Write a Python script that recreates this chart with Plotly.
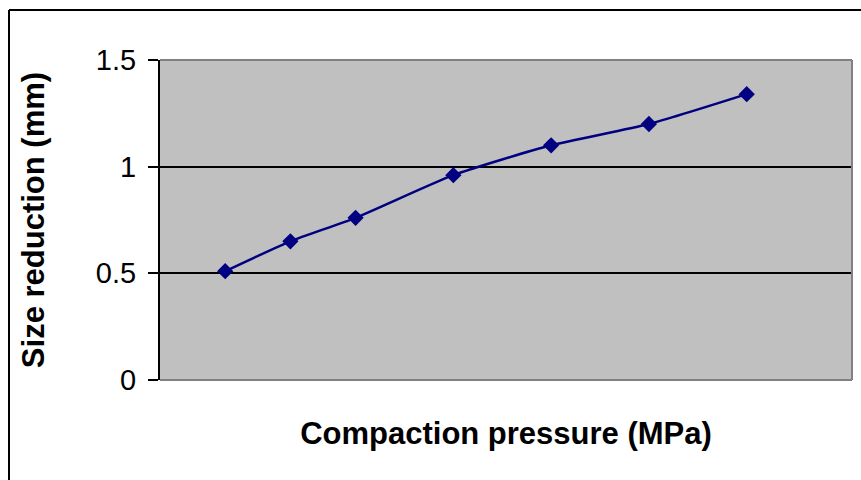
import plotly.graph_objects as go

# Data
pressure_mpa = [20, 40, 60, 90, 120, 150, 180]
size_reduction_mm = [0.51, 0.65, 0.76, 0.96, 1.10, 1.20, 1.34]
y_ticks = [0, 0.5, 1, 1.5]
y_tick_labels = ["0", "0.5", "1", "1.5"]

FONT = "Liberation Sans, Arial, sans-serif"
NAVY = "#000080"

fig = go.Figure()
fig.add_trace(go.Scatter(
    x=pressure_mpa, y=size_reduction_mm,
    mode="lines+markers",
    line=dict(color=NAVY, width=2.5, shape="spline", smoothing=0.6),
    marker=dict(symbol="diamond", size=12.5, color=NAVY),
    showlegend=False, hoverinfo="x+y",
))

fig.update_layout(
    width=861, height=480,
    margin=dict(l=160, r=9, t=60, b=100),
    paper_bgcolor="white",
    plot_bgcolor="#C0C0C0",
    font=dict(family=FONT, color="black"),
    xaxis=dict(
        range=[0, 212.3],
        showgrid=False, zeroline=False,
        showticklabels=False, ticks="",
        showline=False,
        title=dict(text="<b>Compaction pressure (MPa)</b>",
                   font=dict(size=31, family=FONT), standoff=42),
    ),
    yaxis=dict(
        range=[0, 1.5],
        tickvals=y_ticks, ticktext=y_tick_labels,
        tickfont=dict(size=29, family=FONT),
        ticks="outside", ticklen=10, tickwidth=2, tickcolor="black",
        ticklabelstandoff=6,
        showgrid=True, gridcolor="black", gridwidth=2,
        zeroline=False,
        showline=True, linecolor="black", linewidth=2,
        title=dict(text="<b>Size reduction (mm)</b>",
                   font=dict(size=31, family=FONT), standoff=42),
    ),
)

# gray plot-area border (top, right, bottom)
gray = dict(color="#808080", width=2)
fig.add_shape(type="line", xref="paper", yref="paper", x0=0, x1=1, y0=1, y1=1, line=gray, layer="above")
fig.add_shape(type="line", xref="paper", yref="paper", x0=1, x1=1, y0=0, y1=1, line=gray, layer="above")
fig.add_shape(type="line", xref="paper", yref="paper", x0=0, x1=1, y0=0, y1=0, line=gray, layer="above")

# outer chart border (black), extending beyond the window to right/bottom
pw, ph = 692.0, 320.0
bx0 = (9 - 160) / pw
by0 = (380 - 10) / ph
blk = dict(color="black", width=2)
fig.add_shape(type="line", xref="paper", yref="paper", x0=bx0, x1=(870 - 160) / pw, y0=by0, y1=by0, line=blk, layer="above")
fig.add_shape(type="line", xref="paper", yref="paper", x0=bx0, x1=bx0, y0=by0, y1=(380 - 490) / ph, line=blk, layer="above")

fig.write_html("out.html")
